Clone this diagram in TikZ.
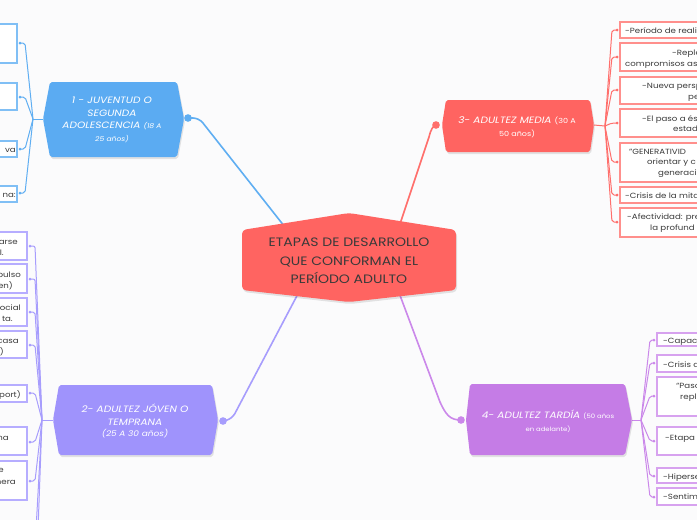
\documentclass[tikz,border=0pt]{standalone}
\usepackage{fontspec}
\setmainfont{Poppins}[FakeStretch=1.15]
\definecolor{bgc}{HTML}{FBFBFC}
\definecolor{txt}{HTML}{3A3A3A}
\definecolor{redn}{HTML}{FF6461}
\definecolor{redl}{HTML}{FF6F6C}
\definecolor{redb}{HTML}{FF8F8C}
\definecolor{bluen}{HTML}{5BABF2}
\definecolor{bluel}{HTML}{5FAEF2}
\definecolor{blueb}{HTML}{80BFF5}
\definecolor{purn}{HTML}{9F93FC}
\definecolor{purl}{HTML}{A79DFD}
\definecolor{purb}{HTML}{B6ADFF}
\definecolor{pinkn}{HTML}{C57CE6}
\definecolor{pinkl}{HTML}{CB88EA}
\definecolor{pinkb}{HTML}{D7A2EF}
\begin{document}
\begin{tikzpicture}[x=1pt,y=-1pt,
  leaf/.style={font=\fontsize{7.5}{10}\selectfont, text=txt, inner sep=0pt},
  box/.style={fill=white, line width=1.1pt},
  conn/.style={line width=1pt, rounded corners=2pt},
  mainconn/.style={line width=1.6pt, rounded corners=6pt},
  dotm/.style={circle, fill, inner sep=0pt, minimum size=3pt},
  ring/.style={circle, draw, fill=white, line width=1pt, inner sep=0pt, minimum size=6.5pt},
  btext/.style={text=white, align=center, font=\fontsize{9.2}{12.6}\selectfont\itshape, inner sep=0pt},
  shadowc/.style={fill=black, opacity=0.10}
]
\useasboundingbox (0,0) rectangle (697,520);
\clip (0,0) rectangle (697,520);
\fill[bgc] (0,0) rectangle (697,520);

% ---------- coordinates ----------
\coordinate (c1) at (292,236);
\coordinate (c2) at (300,290);
\coordinate (c3) at (398,230);
\coordinate (c4) at (398,290);
\coordinate (b1c) at (188,118);
\coordinate (b2c) at (223,421);
\coordinate (b3c) at (436,125);
\coordinate (b4c) at (461,420);
\coordinate (b1l) at (43,119);
\coordinate (b2l) at (53,420);
\coordinate (b3r) at (594,125);
\coordinate (b4r) at (632,420);
\coordinate (j1) at (33,119);
\coordinate (j2) at (42,420);
\coordinate (j3) at (605,126);
\coordinate (j4) at (641,420);

% ---------- main connectors ----------
\draw[mainconn, bluel] (b1c) -- (199,118) -- (c1);
\draw[mainconn, purl] (b2c) -- (232,419) -- (c2);
\draw[line width=1.6pt, redl] (c3) -- (429,137) .. controls (431,129) and (433,126) .. (b3c);
\draw[line width=1.6pt, pinkl] (c4) -- (440,402) .. controls (446,415) and (450,420) .. (b4c);

% ---------- group 1 (blue, left) ----------
\draw[conn, bluel] (b1l) -- (j1);
\foreach \y in {43,97,149,193} {
  \draw[conn, bluel] (j1) -- (25,\y) -- (20,\y);
}
\draw[box, draw=blueb] (-40,24) rectangle (17,63);
\draw[box, draw=blueb] (-40,83) rectangle (17,110);
\draw[box, draw=blueb] (-40,141) rectangle (17,157);
\draw[box, draw=blueb] (-40,186) rectangle (17,202);
\foreach \y/\n in {43/a,97/b,149/c,193/d} {
  \node[dotm, bluel] (d1\n) at (20,\y) {};
}
\node[leaf, anchor=base east] (t1c) at (16,152) {va};
\node[leaf, anchor=base east] (t1d) at (16,197) {na:};

% ---------- group 2 (purple, left) ----------
\draw[conn, purl] (b2l) -- (j2);
\foreach \y in {246,279,312,345,393,442,481} {
  \draw[conn, purl] (j2) -- (35,\y) -- (30,\y);
}
\draw[conn, purl] (j2) -- (36,530);
\draw[conn, purl] (j2) -- (38,530);
\draw[box, draw=purb] (-40,232) rectangle (27,260);
\draw[box, draw=purb] (-40,264) rectangle (27,293);
\draw[box, draw=purb] (-40,298) rectangle (27,326);
\draw[box, draw=purb] (-40,331) rectangle (27,358);
\draw[box, draw=purb] (-40,385) rectangle (27,402);
\draw[box, draw=purb] (-40,427) rectangle (27,455);
\draw[box, draw=purb] (-40,461) rectangle (27,500);
\foreach \y/\n in {246/a,279/b,312/c,345/d,393/e,442/f,481/g} {
  \node[dotm, purl] (d2\n) at (30,\y) {};
}
\node[leaf, anchor=base east] (t2a1) at (18,244) {arse};
\node[leaf, anchor=base east] (t2a2) at (4,255) {l.};
\node[leaf, anchor=base east] (t2b1) at (21,277) {pulso};
\node[leaf, anchor=base east] (t2b2) at (13,288) {en)};
\node[leaf, anchor=base east] (t2c1) at (21,310) {ocial};
\node[leaf, anchor=base east] (t2c2) at (13,321) {ta.};
\node[leaf, anchor=base east] (t2d1) at (19,343) {casa};
\node[leaf, anchor=base east] (t2d2) at (4,354) {)};
\node[leaf, anchor=base east] (t2e) at (21,397) {port)};
\node[leaf, anchor=base east] (t2f) at (9,440) {na};
\node[leaf, anchor=base east] (t2g1) at (4,472) {e};
\node[leaf, anchor=base east] (t2g2) at (16,484) {nera};

% ---------- group 3 (red, right) ----------
\draw[conn, redl] (b3r) -- (j3);
\foreach \y in {30,57,90,123,162,195,222} {
  \draw[conn, redl] (j3) -- (612,\y) -- (617,\y);
}
\draw[box, draw=redb] (620,22) rectangle (740,38);
\draw[box, draw=redb] (620,43) rectangle (740,71);
\draw[box, draw=redb] (620,77) rectangle (740,104);
\draw[box, draw=redb] (620,109) rectangle (740,137);
\draw[box, draw=redb] (620,143) rectangle (740,182);
\draw[box, draw=redb] (620,187) rectangle (740,203);
\draw[box, draw=redb] (620,208) rectangle (740,237);
\foreach \y/\n in {30/a,57/b,90/c,123/d,162/e,195/f,222/g} {
  \node[dotm, redl] (d3\n) at (617,\y) {};
}
\node[leaf, anchor=base west] (t3a) at (625,33) {-Período de realiz};
\node[leaf, anchor=base west] (t3b1) at (672,55) {-Repla};
\node[leaf, anchor=base west] (t3b2) at (625,66) {compromisos asu};
\node[leaf, anchor=base west] (t3c1) at (642,88) {-Nueva persp};
\node[leaf, anchor=base west] (t3c2) at (688,99) {pe};
\node[leaf, anchor=base west] (t3d1) at (642,121) {-El paso a és};
\node[leaf, anchor=base west] (t3d2) at (673,131) {estad};
\node[leaf, anchor=base west] (t3e1) at (629,154) {"GENERATIVID};
\node[leaf, anchor=base west] (t3e2) at (647,164) {orientar y c};
\node[leaf, anchor=base west] (t3e3) at (658,175) {generaci};
\node[leaf, anchor=base west] (t3f) at (625,198) {-Crisis de la mita};
\node[leaf, anchor=base west] (t3g1) at (627,219) {-Afectividad: pre};
\node[leaf, anchor=base west] (t3g2) at (650,230) {la profund};

% ---------- group 4 (pink, right) ----------
\draw[conn, pinkl] (b4r) -- (j4);
\foreach \y in {340,363,396,441,476,497} {
  \draw[conn, pinkl] (j4) -- (650,\y) -- (654,\y);
}
\draw[box, draw=pinkb] (657,333) rectangle (740,346);
\draw[box, draw=pinkb] (657,355) rectangle (740,372);
\draw[box, draw=pinkb] (657,377) rectangle (740,416);
\draw[box, draw=pinkb] (657,427) rectangle (740,455);
\draw[box, draw=pinkb] (657,468) rectangle (740,483);
\draw[box, draw=pinkb] (657,488) rectangle (740,505);
\foreach \y/\n in {340/a,363/b,396/c,441/d,476/e,497/f} {
  \node[dotm, pinkl] (d4\n) at (654,\y) {};
}
\node[leaf, anchor=base west] (t4a) at (663,343) {-Capaci};
\node[leaf, anchor=base west] (t4b) at (663,367) {-Crisis d};
\node[leaf, anchor=base west] (t4c1) at (676,388) {“Paso};
\node[leaf, anchor=base west] (t4c2) at (680,399) {repl};
\node[leaf, anchor=base west] (t4d) at (665,440) {-Etapa d};
\node[leaf, anchor=base west] (t4e) at (663,479) {-Hiperse};
\node[leaf, anchor=base west] (t4f) at (663,499) {-Sentim};

% ---------- branch shapes ----------
\fill[shadowc, rounded corners=2pt] (44,121) -- (51,84) -- (178,84) -- (185,121) -- (178,159) -- (51,159) -- cycle;
\fill[bluen, rounded corners=2pt] (43,119) -- (50,82) -- (177,82) -- (184,119) -- (177,157) -- (50,157) -- cycle;
\fill[shadowc, rounded corners=2pt] (54,422) -- (60,387) -- (213,387) -- (219,422) -- (213,457) -- (60,457) -- cycle;
\fill[purn, rounded corners=2pt] (53,420) -- (59,385) -- (212,385) -- (218,420) -- (212,455) -- (59,455) -- cycle;
\fill[shadowc, rounded corners=2pt] (443,127) -- (447,102) -- (591,102) -- (595,127) -- (591,154) -- (447,154) -- cycle;
\fill[redn, rounded corners=2pt] (442,125) -- (446,100) -- (590,100) -- (594,125) -- (590,152) -- (446,152) -- cycle;
\fill[shadowc, rounded corners=2pt] (467,422) -- (471,386) -- (626,386) -- (633,422) -- (626,457) -- (471,457) -- cycle;
\fill[pinkn, rounded corners=2pt] (466,420) -- (470,384) -- (625,384) -- (632,420) -- (625,455) -- (470,455) -- cycle;

% central
\fill[shadowc, rounded corners=4pt] (243,232) -- (350,215) -- (457,232) -- (457,292) -- (350,304) -- (243,292) -- cycle;
\fill[redn, rounded corners=4pt] (242,230) -- (349,213) -- (456,230) -- (456,290) -- (349,302) -- (242,290) -- cycle;

% rings
\node[ring, bluel] (r1) at (b1c) {};
\fill[bluel] (b1c) circle (1.2pt);
\node[ring, purl] (r2) at (b2c) {};
\fill[purl] (b2c) circle (1.2pt);
\node[ring, redl] (r3) at (b3c) {};
\fill[redl] (b3c) circle (1.2pt);
\node[ring, pinkl] (r4) at (b4c) {};
\fill[pinkl] (b4c) circle (1.2pt);

% ---------- texts ----------
\node[text=txt, align=center, font=\fontsize{12.2}{18.5}\selectfont, inner sep=0pt] (center) at (349,261)
  {ETAPAS DE DESARROLLO\\QUE CONFORMAN EL\\PERÍODO ADULTO};
\node[btext] (n1) at (112,120)
  {1 - JUVENTUD O\\SEGUNDA\\ADOLESCENCIA {\fontsize{6.6}{8}\selectfont (18 A}\\{\fontsize{6.6}{8}\selectfont 25 años)}};
\node[btext] (n2) at (135,421)
  {2- ADULTEZ JÓVEN O\\TEMPRANA\\[-2pt]{\fontsize{7.8}{8}\selectfont (25 A 30 años)}};
\node[btext] (n3) at (517,127)
  {3- ADULTEZ MEDIA {\upshape\fontsize{7}{8}\selectfont(30 A}\\{\upshape\fontsize{7}{8}\selectfont 50 años)}};
\node[btext] (n4) at (548,421)
  {4- ADULTEZ TARDÍA {\upshape\fontsize{6}{8}\selectfont(50 años}\\{\upshape\fontsize{6}{8}\selectfont en adelante)}};
\end{tikzpicture}
\end{document}
